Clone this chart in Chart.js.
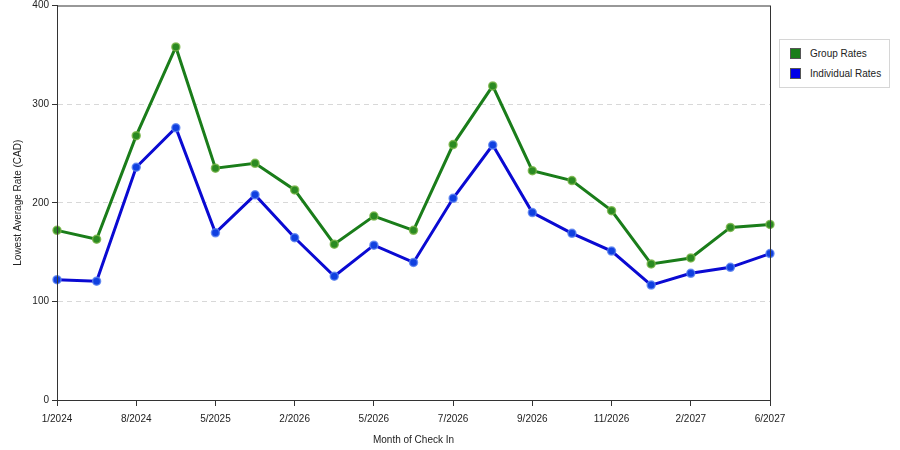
<!DOCTYPE html>
<html>
<head>
<meta charset="utf-8">
<script src="https://cdn.jsdelivr.net/npm/chart.js@4.4.0/dist/chart.umd.min.js"></script>
<style>
    body { margin: 0; background: #fff; }
    #wrap { position: relative; width: 900px; height: 450px; }
    #legend {
        position: absolute; left: 779px; top: 39px; width: 109px; height: 47px;
        border: 1px solid #d6d6d6; background: #fff;
        font-family: "Liberation Sans", Arial, sans-serif; font-size: 10px; color: #222;
    }
    .item { position: absolute; left: 10px; height: 12px; line-height: 12px; }
    .sw { display: inline-block; width: 11px; height: 11px; vertical-align: top; margin-right: 9px; border: 1px solid #555; box-sizing: border-box; }
</style>
</head>
<body>
<div id="wrap">
    <canvas id="rateChart" width="900" height="450"></canvas>
    <div id="legend">
        <div class="item" style="top:8px"><span class="sw" style="background:#1a7d1a"></span>Group Rates</div>
        <div class="item" style="top:28px"><span class="sw" style="background:#0000e6"></span>Individual Rates</div>
    </div>
</div>
<script>
var months = ["1/2024", "", "8/2024", "", "5/2025", "", "2/2026", "", "5/2026", "",
    "7/2026", "", "9/2026", "", "11/2026", "", "2/2027", "", "6/2027"];
var groupRates = [172, 163, 268, 358, 235, 240, 213, 158, 186.5, 172,
    259, 318.5, 232.5, 222.5, 192, 138, 144, 175, 178];
var individualRates = [122, 120.5, 236, 276, 169.5, 208, 164.5, 125.5, 157, 139.5,
    204.5, 258.5, 190, 169, 151, 116.5, 128.5, 134.5, 148.5];
var yTicks = [0, 100, 200, 300, 400];

document.addEventListener("DOMContentLoaded", function () {
    var ctx = document.getElementById("rateChart").getContext("2d");
    var font = { family: "'Liberation Sans', Arial, sans-serif", size: 10 };

    var frame = {
        id: "frame",
        afterDraw: function (chart) {
            var a = chart.chartArea, c = chart.ctx;
            c.save();
            c.strokeStyle = "#333";
            c.lineWidth = 1;
            c.strokeRect(a.left + 0.5, a.top + 0.5, a.right - a.left, a.bottom - a.top);
            c.restore();
        },
    };

    new Chart(ctx, {
        type: "line",
        data: {
            labels: months,
            datasets: [
                {
                    label: "Group Rates",
                    data: groupRates,
                    borderColor: "#1a7d1a",
                    borderWidth: 3,
                    pointRadius: 4,
                    pointBorderWidth: 1.5,
                    pointBackgroundColor: "#2b8a22",
                    pointBorderColor: "rgba(120, 180, 70, 0.8)",
                    tension: 0,
                },
                {
                    label: "Individual Rates",
                    data: individualRates,
                    borderColor: "#0a0ad2",
                    borderWidth: 3,
                    pointRadius: 4,
                    pointBorderWidth: 1.5,
                    pointBackgroundColor: "#1040e0",
                    pointBorderColor: "rgba(90, 130, 240, 0.8)",
                    tension: 0,
                },
            ],
        },
        options: {
            responsive: false,
            animation: false,
            layout: { padding: { top: 5, right: 130, left: 0, bottom: 0 } },
            plugins: {
                legend: { display: false },
                tooltip: { enabled: false },
            },
            scales: {
                x: {
                    offset: false,
                    afterFit: function (s) { s.height = 50; },
                    grid: {
                        drawOnChartArea: false,
                        tickLength: 6,
                        tickColor: function (c) { return c.index % 2 ? "transparent" : "#333"; },
                    },
                    border: { color: "#333" },
                    ticks: { autoSkip: false, maxRotation: 0, color: "#222", font: font, padding: 7 },
                    title: { display: true, text: "Month of Check In", color: "#222", font: font, padding: { top: 0 } },
                },
                y: {
                    min: 0,
                    max: 400,
                    afterFit: function (s) { s.width = 57; s.paddingTop = 0; },
                    afterBuildTicks: function (s) { s.ticks = yTicks.map(function (v) { return { value: v }; }); },
                    grid: {
                        color: function (c) { return c.tick && (c.tick.value === 0 || c.tick.value === 400) ? "transparent" : "#d8d8d8"; },
                        tickColor: "#333",
                        tickLength: 5,
                    },
                    border: { color: "#333", dash: [5, 4] },
                    ticks: { color: "#222", font: font, padding: 3 },
                    title: { display: true, text: "Lowest Average Rate (CAD)", color: "#222", font: font, padding: { top: 12, bottom: 2 } },
                },
            },
        },
        plugins: [frame],
    });
});
</script>
</body>
</html>
